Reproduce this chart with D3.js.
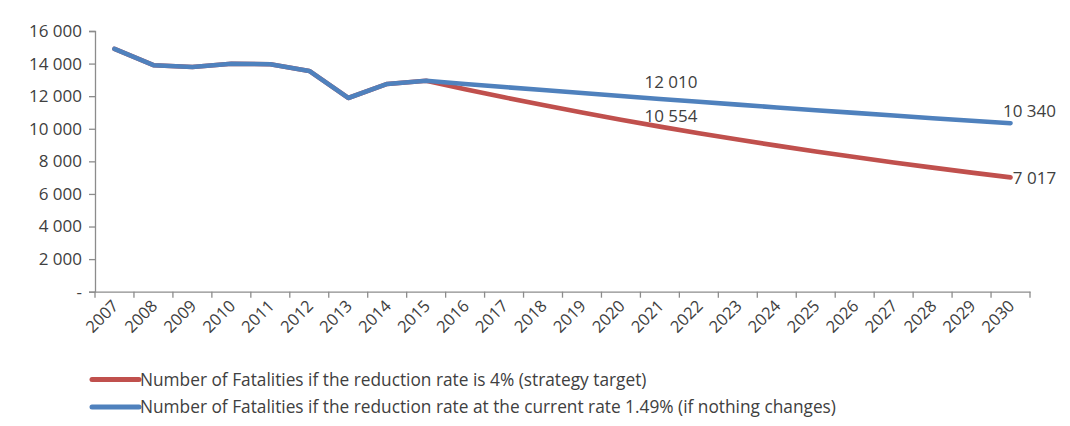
<!DOCTYPE html>
<html><head><meta charset="utf-8">
<script src="https://cdn.jsdelivr.net/npm/d3@7"></script>
<style>body{margin:0;background:#fff}text{font-family:"Open Sans",sans-serif;fill:#404040}</style>
</head><body><svg id="c" width="1070" height="426"></svg>
<script>
const years = ["2007","2008","2009","2010","2011","2012","2013","2014","2015","2016","2017","2018","2019","2020","2021","2022","2023","2024","2025","2026","2027","2028","2029","2030"];
const targetSeries = [14900, 13900, 13790, 13990, 13960, 13550, 11890, 12750, 12944, 12426, 11929, 11452, 10994, 10554, 10132, 9727, 9338, 8964, 8606, 8261, 7931, 7614, 7309, 7017];
const currentSeries = [14900, 13900, 13790, 13990, 13960, 13550, 11890, 12750, 12944, 12751, 12561, 12374, 12190, 12010, 11829, 11653, 11479, 11308, 11140, 10974, 10810, 10649, 10491, 10340];
const yTicks = [0, 2000, 4000, 6000, 8000, 10000, 12000, 14000, 16000];
const seriesNames = ["Number of Fatalities if the reduction rate is 4% (strategy target)", "Number of Fatalities if the reduction rate at the current rate 1.49% (if nothing changes)"];
const colors = ["#C0504D", "#4F81BD"];
const labelled = [{s:1, i:13, dx:50, dy:-8}, {s:0, i:13, dx:50, dy:2}, {s:1, i:23, dx:19, dy:-6}, {s:0, i:23, dx:24, dy:7}];

const svg = d3.select("#c");
const x = d3.scaleBand().domain(years).range([95, 1030]).padding(0);
const y = d3.scaleLinear().domain([0, 16000]).range([291.7, 31]);
const fmt = d3.formatLocale({thousands:" ", grouping:[3], decimal:".", currency:["",""]}).format(",.0f");
const cx = d => x(d) + x.bandwidth()/2;

// y axis
const yAxis = svg.append("g").attr("transform","translate(95,0)")
  .call(d3.axisLeft(y).tickValues(yTicks).tickSize(6).tickPadding(7).tickFormat(v => v === 0 ? "-" : fmt(v)));
yAxis.selectAll("path,line").attr("stroke","#8c8c8c").attr("stroke-width",1.3);
yAxis.selectAll("text").style("font-size","17px").style("font-family","Open Sans").attr("fill","#404040");

// x axis
const xAxis = svg.append("g").attr("transform","translate(0,291.7)")
  .call(d3.axisBottom(x).tickSize(0).tickFormat(""));
xAxis.select("path").attr("stroke","#8c8c8c").attr("stroke-width",1.3);
xAxis.selectAll("line.bt").data(years.concat(["end"])).enter().append("line")
  .attr("x1",(d,i)=> i<years.length ? x(d) : x(years[years.length-1])+x.bandwidth())
  .attr("x2",(d,i)=> i<years.length ? x(d) : x(years[years.length-1])+x.bandwidth())
  .attr("y1",0).attr("y2",6).attr("stroke","#8c8c8c").attr("stroke-width",1.3);
svg.append("g").selectAll("text").data(years).enter().append("text")
  .attr("transform", d => `translate(${cx(d)+5},${307}) rotate(-45)`)
  .attr("text-anchor","end").style("font-size","16.5px").text(d => d);

// lines
const line = d3.line().x((d,i)=>cx(years[i])).y(d=>y(d)).curve(d3.curveLinear);
[targetSeries, currentSeries].forEach((s,k)=>{
  svg.append("path").datum(s).attr("d", line).attr("fill","none")
    .attr("stroke", colors[k]).attr("stroke-width",4.6).attr("stroke-linejoin","round").attr("stroke-linecap","round");
});

// data labels
const ser = [targetSeries, currentSeries];
svg.append("g").selectAll("text").data(labelled).enter().append("text")
  .attr("x", d => cx(years[d.i]) + d.dx).attr("y", d => y(ser[d.s][d.i]) + d.dy)
  .attr("text-anchor","middle").style("font-size","17px").text(d => fmt(ser[d.s][d.i]));

// legend
seriesNames.forEach((n,k)=>{
  const ly = 379.5 + k*27.5;
  svg.append("line").attr("x1",92).attr("x2",139).attr("y1",ly).attr("y2",ly)
    .attr("stroke",colors[k]).attr("stroke-width",5).attr("stroke-linecap","round");
  svg.append("text").attr("x",140).attr("y",ly+6).style("font-size","17.3px").text(n);
});
</script></body></html>
